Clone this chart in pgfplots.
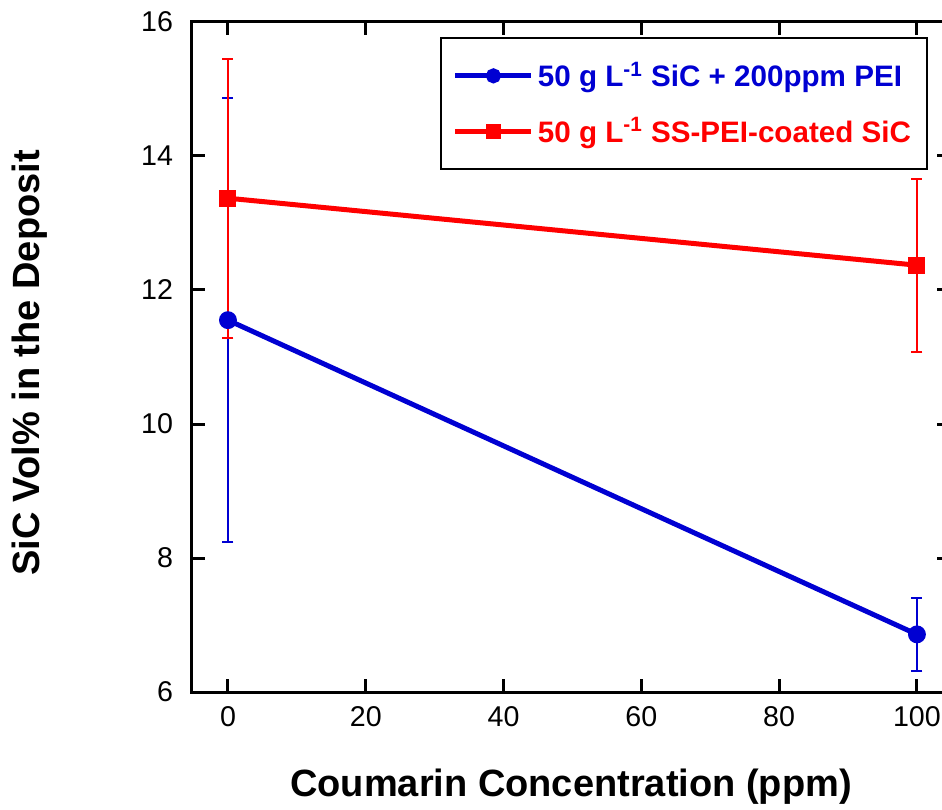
\documentclass[border=0pt]{standalone}
\usepackage{fontspec}
\setmainfont{Liberation Sans}
\usepackage{pgfplots}
\pgfplotsset{compat=1.18}
\definecolor{myblue}{RGB}{0,0,210}
\definecolor{myred}{RGB}{255,0,0}
\begin{document}
\begin{tikzpicture}
\begin{axis}[
  at={(0,0)}, anchor=south west,
  scale only axis, width=379pt, height=335pt,
  xmin=-5.22, xmax=104.8, ymin=6, ymax=16,
  xtick={0,20,...,100}, ytick={6,8,...,16},
  tick align=inside, major tick length=6.5pt,
  axis line style={line width=1.5pt},
  tick style={line width=1.5pt, black},
  /pgf/number format/assume math mode=true,
  ticklabel style={font=\fontsize{14.3}{17}\selectfont},
  yticklabel style={xshift=-6pt},
  xticklabel style={yshift=-3.5pt},
  xlabel={Coumarin Concentration (ppm)},
  ylabel={SiC Vol\% in the Deposit},
  xlabel style={at={(axis description cs:0.5,0)}, anchor=center, yshift=-47.5pt, font=\bfseries\fontsize{19}{22}\selectfont},
  ylabel style={at={(axis description cs:0,0.5)}, anchor=center, rotate=0, yshift=81pt, xshift=-3pt, font=\bfseries\fontsize{19}{22}\selectfont},
  legend style={at={(1,1)}, anchor=north east, xshift=-11pt, yshift=-7.5pt, draw=black, line width=1pt,
    font=\bfseries\fontsize{14.8}{17}\selectfont, row sep=10pt, inner xsep=6pt, inner ysep=10pt, cells={anchor=west}},
  legend image code/.code={\draw[mark repeat=2,mark phase=2,#1,mark size=2.5pt] plot coordinates {(0pt,0pt) (19pt,0pt) (38pt,0pt)};},
]
\addplot[myblue, line width=2.5pt, mark=*, mark size=3.2pt, mark options={solid},
  error bars/.cd, y dir=both, y explicit,
  error bar style={line width=1pt, myblue},
  error mark options={rotate=90, mark size=2.75pt, line width=1pt, myblue}]
  coordinates {(0,11.55) +- (0,3.31) (100,6.86) +- (0,0.55)};
\addlegendentry{\textcolor{myblue}{50 g L\textsuperscript{-1} SiC + 200ppm PEI}}
\addplot[myred, line width=2.5pt, mark=square*, mark size=3pt, mark options={solid},
  error bars/.cd, y dir=both, y explicit,
  error bar style={line width=1pt, myred},
  error mark options={rotate=90, mark size=2.75pt, line width=1pt, myred}]
  coordinates {(0,13.37) +- (0,2.08) (100,12.37) +- (0,1.29)};
\addlegendentry{\textcolor{myred}{50 g L\textsuperscript{-1} SS-PEI-coated SiC}}
\end{axis}
\pgfresetboundingbox
\path[use as bounding box] (-96pt,-58.5pt) rectangle (375pt,346pt);
\end{tikzpicture}
\end{document}
